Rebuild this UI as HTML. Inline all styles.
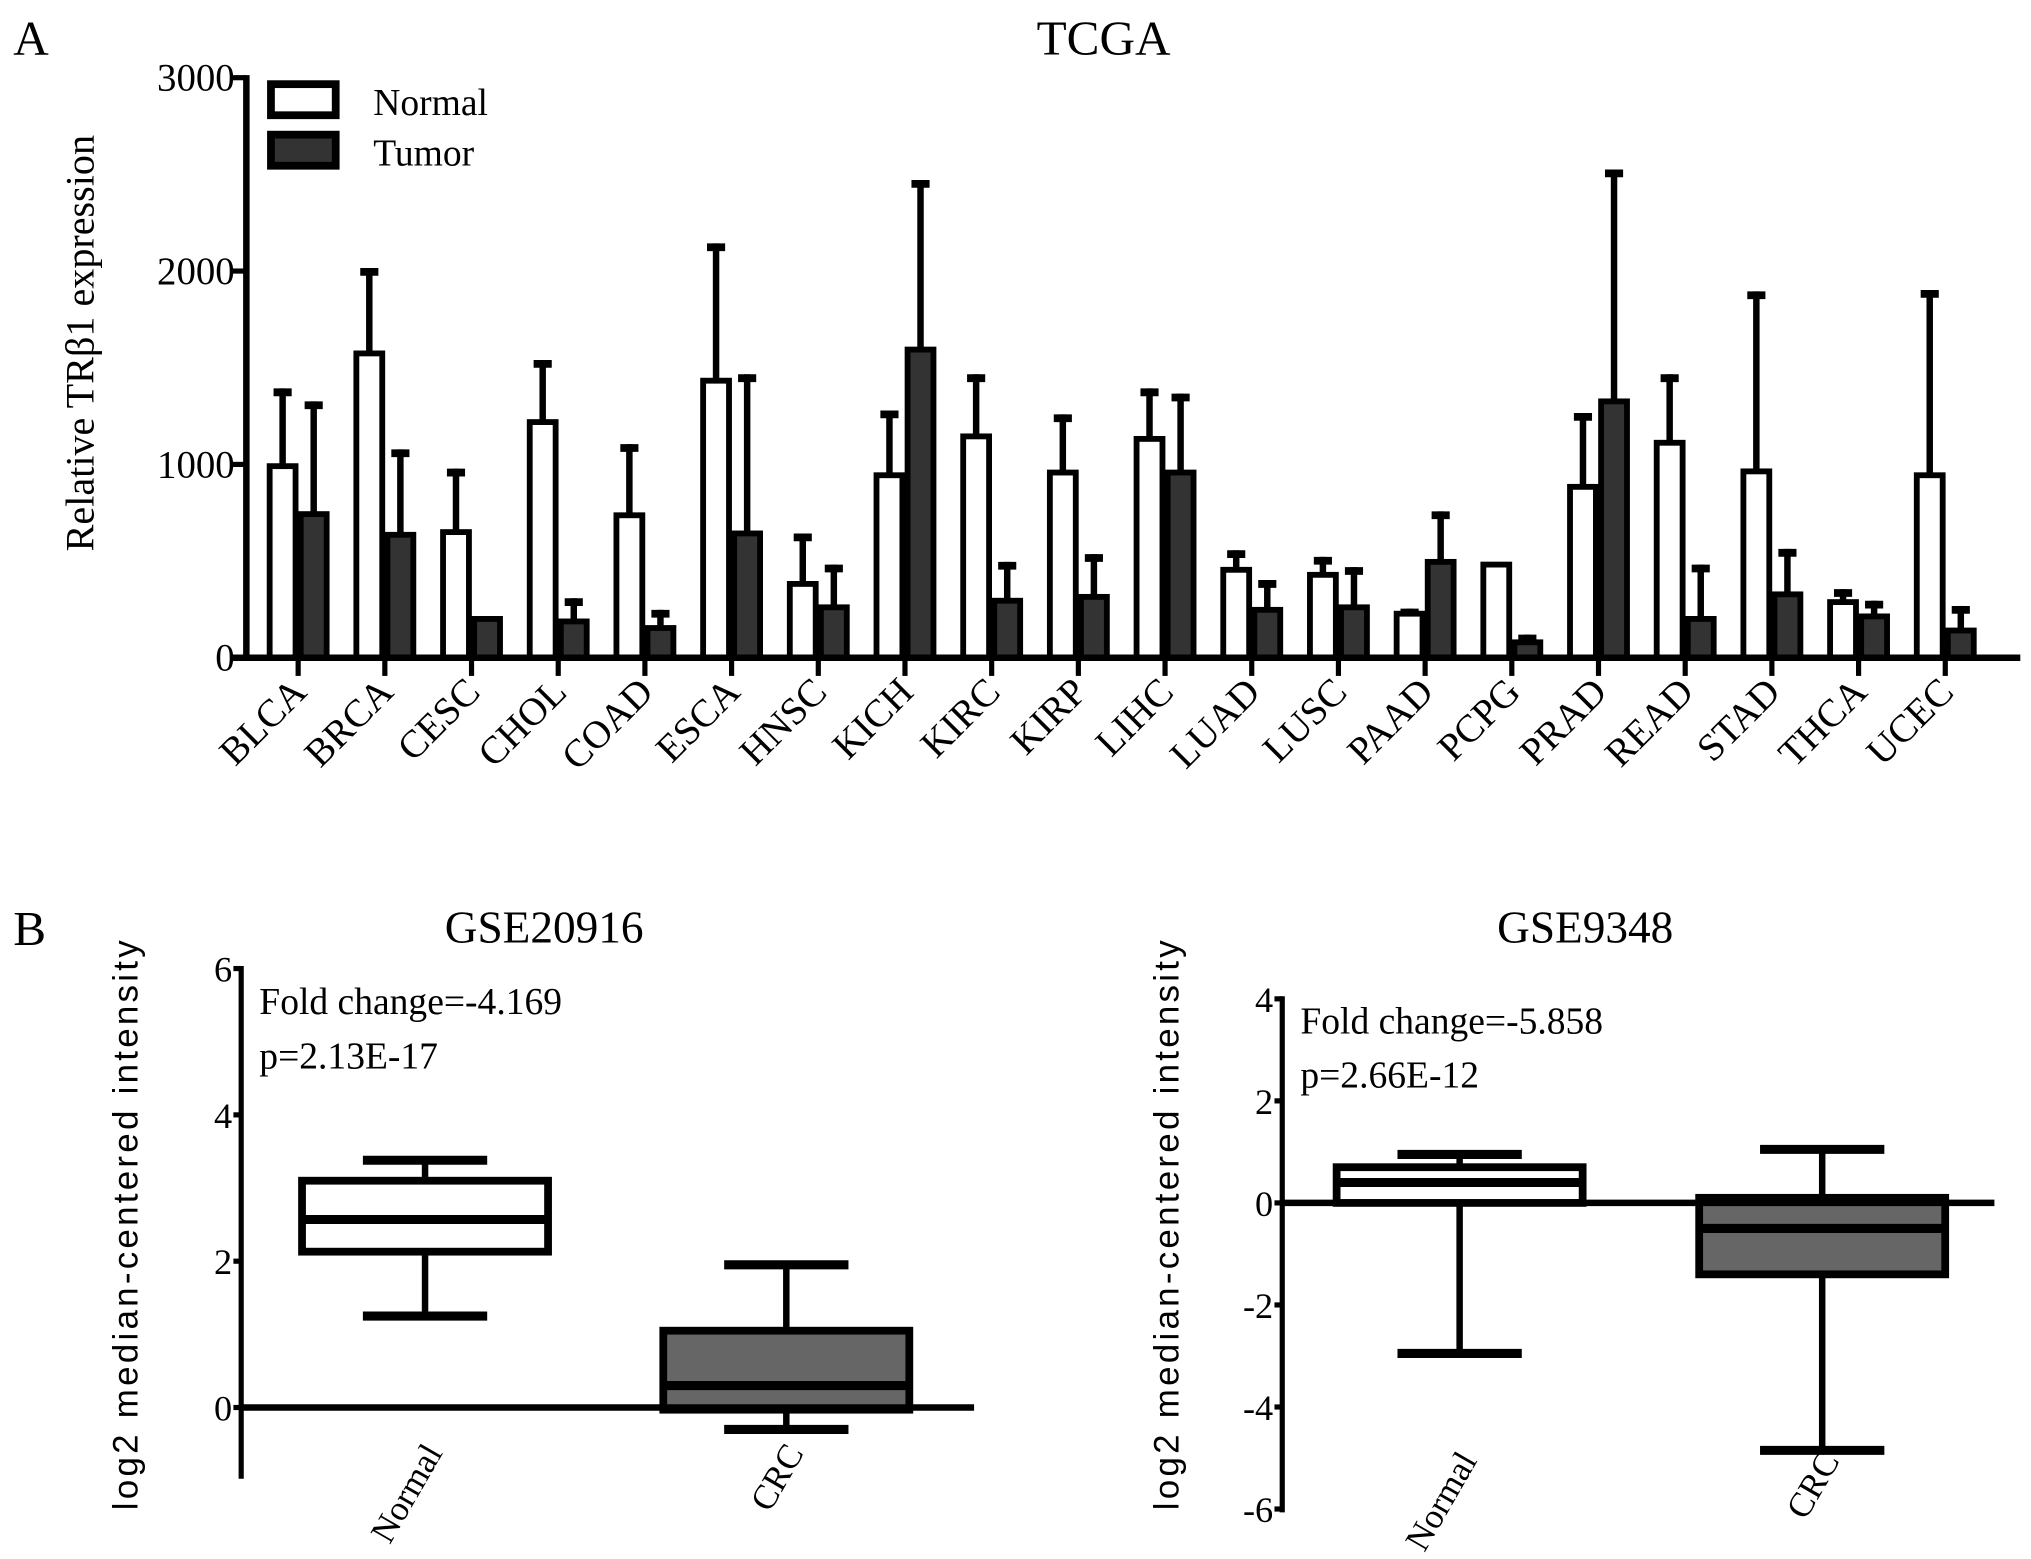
<!DOCTYPE html>
<html><head><meta charset="utf-8"><style>
html,body{margin:0;padding:0;background:#fff;}
svg{display:block;font-family:"Liberation Serif",serif;}
</style></head><body>
<svg id="fig" width="2031" height="1559" viewBox="0 0 1568 1204">
<g id="panelA"></g>
<g id="panelB1"></g>
<g id="panelB2"></g>
</svg>
<script>
const cats=["BLCA","BRCA","CESC","CHOL","COAD","ESCA","HNSC","KICH","KIRC","KIRP","LIHC","LUAD","LUSC","PAAD","PCPG","PRAD","READ","STAD","THCA","UCEC"];
const normalVals=[991,1574,650,1219,737,1433,382,944,1145,958,1132,455,429,228,482,884,1112,964,288,944];
const normalErr=[1393,2016,978,1540,1105,2143,643,1279,1466,1259,1393,556,522,254,489,1266,1466,1895,355,1902];
const tumorVals=[743,636,201,188,154,643,261,1594,295,315,958,248,261,496,80,1326,201,328,214,141];
const tumorErr=[1326,1078,208,308,248,1466,482,2471,496,536,1366,402,469,757,120,2525,482,563,295,268];
const yTicksA=[0,1000,2000,3000];
const boxGroups=["Normal","CRC"];
const box1Stats=[[1.25,2.13,2.57,3.1,3.38],[-0.3,-0.03,0.3,1.05,1.95]];
const box2Stats=[[-2.95,0.0,0.4,0.7,0.95],[-4.85,-1.4,-0.5,0.1,1.05]];
const yTicksB1=[0,2,4,6];
const yTicksB2=[-6,-4,-2,0,2,4];
const NS="http://www.w3.org/2000/svg";
const SERIF='"Liberation Serif", "DejaVu Serif", serif';
function mk(p,tag,attrs,txt){const e=document.createElementNS(NS,tag);if(tag==='text')e.setAttribute('font-family',SERIF);for(const k in attrs)e.setAttribute(k,attrs[k]);if(txt!==undefined)e.textContent=txt;p.appendChild(e);return e;}
const A=document.getElementById('panelA');
const yA=v=>508-v/3000*448;
const xA=i=>230+i*66.95;
let t;
t=mk(A,'text',{x:10,y:42,'font-size':38},'A');

t=mk(A,'text',{x:852,y:42,'font-size':38,'text-anchor':'middle'},'TCGA');

t=mk(A,'text',{transform:'translate(72,265) rotate(-90)','font-size':31,'text-anchor':'middle'},'Relative TRβ1 expression');

cats.forEach((c,i)=>{
  const cx=xA(i);
  const g=mk(A,'g',{});
  
  [[normalVals[i],normalErr[i],cx-12],[tumorVals[i],tumorErr[i],cx+12]].forEach(([v,e,x])=>{
    const l=mk(g,'line',{x1:x,x2:x,y1:yA(v),y2:yA(e),stroke:'#000','stroke-width':5});
    
    const cap=mk(g,'line',{x1:x-7,x2:x+7,y1:yA(e)+3,y2:yA(e)+3,stroke:'#000','stroke-width':6});
    
  });
  const bn=mk(g,'rect',{x:cx-22,y:yA(normalVals[i]),width:20,height:yA(0)-yA(normalVals[i]),fill:'#fff',stroke:'#000','stroke-width':4.5});
  
  const bt=mk(g,'rect',{x:cx+2,y:yA(tumorVals[i]),width:20,height:yA(0)-yA(tumorVals[i]),fill:'#333',stroke:'#000','stroke-width':4.5});
  
  const tk=mk(g,'line',{x1:cx,x2:cx,y1:508,y2:522,stroke:'#000','stroke-width':4});
  
  const lb=mk(g,'text',{transform:`translate(${cx+8},${536}) rotate(-45)`,'font-size':30,'text-anchor':'end'},c);
  
});
let ax=mk(A,'line',{x1:190,x2:190,y1:58,y2:510,stroke:'#000','stroke-width':5});

ax=mk(A,'line',{x1:178,x2:1560,y1:508,y2:508,stroke:'#000','stroke-width':5});

yTicksA.forEach(v=>{
  const l=mk(A,'line',{x1:178,x2:190,y1:yA(v),y2:yA(v),stroke:'#000','stroke-width':4});
  
  const tx=mk(A,'text',{x:181,y:yA(v)+10,'font-size':30,'text-anchor':'end'},String(v));
  
});
let lg=mk(A,'g',{});
let r=mk(lg,'rect',{x:209,y:65,width:50,height:24,fill:'#fff',stroke:'#000','stroke-width':6});

r=mk(lg,'rect',{x:209,y:104,width:50,height:24,fill:'#333',stroke:'#000','stroke-width':6});

t=mk(lg,'text',{x:288,y:89,'font-size':29},'Normal');
t=mk(lg,'text',{x:288,y:128,'font-size':29},'Tumor');

function boxPanel(G,o){
  const y=v=>o.y0-v*o.unit;
  let e=mk(G,'text',{x:o.ax+234,y:728,'font-size':35,'text-anchor':'middle'},o.title);
  
  e=mk(G,'text',{transform:`translate(${o.ax-80},${945}) rotate(-90)`,'font-size':27,'text-anchor':'middle','letter-spacing':'2.5','font-family':'"Liberation Sans", sans-serif'},'log2 median-centered intensity');
  
  e=mk(G,'text',{x:o.ax+14,y:o.txtY,'font-size':29},o.fc);
  
  e=mk(G,'text',{x:o.ax+14,y:o.txtY+42,'font-size':29},o.p);
  
  o.stats.forEach((s,i)=>{
    const cx=o.cx[i];
    const g=mk(G,'g',{});
    
    let l=mk(g,'line',{x1:cx,x2:cx,y1:y(s[0]),y2:y(s[4]),stroke:'#000','stroke-width':5});
    
    [s[0],s[4]].forEach(w=>{
      const c=mk(g,'line',{x1:cx-48,x2:cx+48,y1:y(w),y2:y(w),stroke:'#000','stroke-width':7});
      
    });
    const b=mk(g,'rect',{x:cx-95,y:y(s[3]),width:190,height:y(s[1])-y(s[3]),fill:i?'#666':'#fff',stroke:'#000','stroke-width':6});
    
    l=mk(g,'line',{x1:cx-95,x2:cx+95,y1:y(s[2]),y2:y(s[2]),stroke:'#000','stroke-width':7});
    
    const lb=mk(g,'text',{transform:`translate(${cx+14},${o.lblY}) rotate(-60)`,'font-size':27,'text-anchor':'end'},boxGroups[i]);
    
  });
  e=mk(G,'line',{x1:o.ax,x2:o.ax,y1:y(o.ticks[o.ticks.length-1])-2,y2:o.yBot,stroke:'#000','stroke-width':4});
  
  e=mk(G,'line',{x1:o.ax,x2:o.xEnd,y1:y(0),y2:y(0),stroke:'#000','stroke-width':5});
  
  o.ticks.forEach(v=>{
    const l=mk(G,'line',{x1:o.ax-6,x2:o.ax,y1:y(v),y2:y(v),stroke:'#000','stroke-width':4});
    
    const tx=mk(G,'text',{x:o.ax-7,y:y(v)+10,'font-size':28,'text-anchor':'end'},String(v));
    
  });
}
const B1=document.getElementById('panelB1');
t=mk(B1,'text',{x:10,y:730,'font-size':38},'B');

boxPanel(B1,{ax:186,y0:1087,unit:56.5,ticks:yTicksB1,yBot:1142,xEnd:752,cx:[328,607],stats:box1Stats,title:'GSE20916',fc:'Fold change=-4.169',p:'p=2.13E-17',txtY:783,lblY:1122});
boxPanel(document.getElementById('panelB2'),{ax:990,y0:929,unit:39.4,ticks:yTicksB2,yBot:1168,xEnd:1540,cx:[1127,1407],stats:box2Stats,title:'GSE9348',fc:'Fold change=-5.858',p:'p=2.66E-12',txtY:798,lblY:1128});
</script>
</body></html>
